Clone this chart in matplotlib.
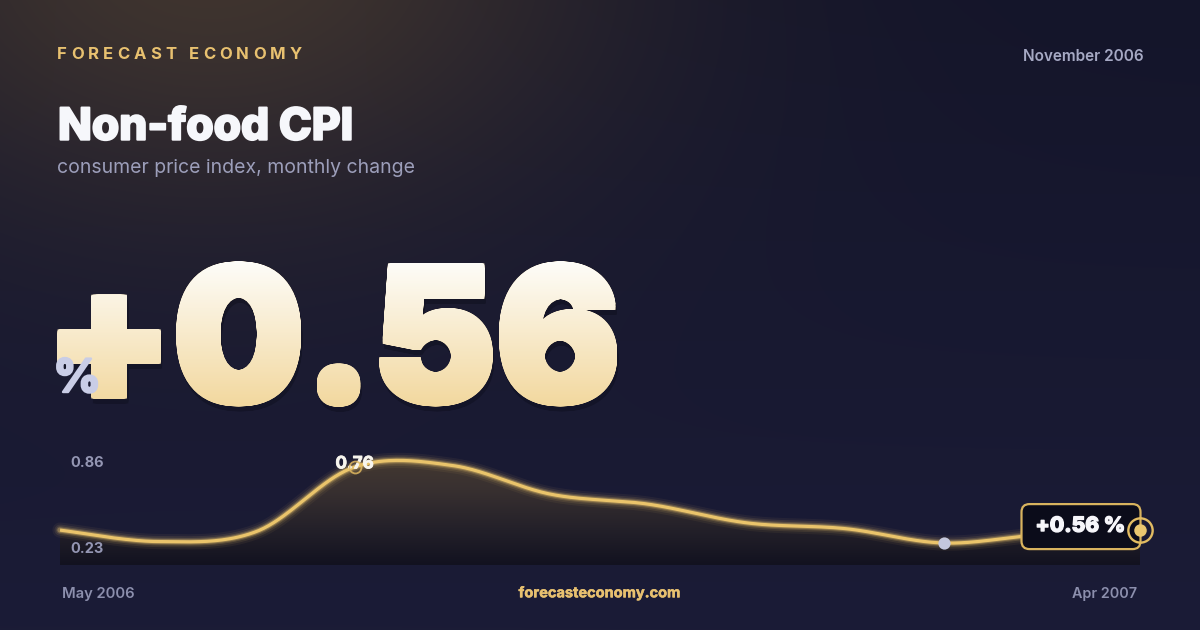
import numpy as np
import matplotlib
matplotlib.use("Agg")
import matplotlib.pyplot as plt
from matplotlib.textpath import TextPath
from matplotlib.font_manager import FontProperties
from matplotlib.patches import PathPatch, FancyBboxPatch, Polygon
from matplotlib.path import Path
from matplotlib.transforms import Affine2D
from matplotlib.colors import to_rgb, LinearSegmentedColormap
import matplotlib.patheffects as pe

# ---------------- data ----------------
months = ["May 2006", "Jun 2006", "Jul 2006", "Aug 2006", "Sep 2006", "Oct 2006",
          "Nov 2006", "Dec 2006", "Jan 2007", "Feb 2007", "Mar 2007", "Apr 2007"]
values = [0.32, 0.24, 0.31, 0.76, 0.77, 0.57, 0.50, 0.37, 0.33, 0.23, 0.29, 0.32]
axis_labels = ["0.86", "0.23"]
highlight_index = 3
headline_value = "+0.56"
callout_label = "+0.56 %"
brand = "FORECAST ECONOMY"
title = "Non-food CPI"
subtitle = "consumer price index, monthly change"
date_label = "November 2006"
site = "forecasteconomy.com"

FONT = "Inter"
GOLD = "#E8C170"
LINE = "#EAC46B"

W, H = 1200, 630
fig = plt.figure(figsize=(W / 100, H / 100), dpi=100)
R = fig.canvas.get_renderer()

# background axes in pixel coordinates
bg = fig.add_axes([0, 0, 1, 1])
bg.set_xlim(0, W)
bg.set_ylim(H, 0)
bg.axis("off")

yy, xx = np.mgrid[0:H, 0:W]
top = np.array(to_rgb("#14152a"))
bot = np.array(to_rgb("#1b1c37"))
t = (yy / H)[..., None]
base = top * (1 - t) + bot * t
warm = np.array(to_rgb("#4b3d30"))
d = np.sqrt((xx - 210.0) ** 2 + ((yy + 50.0) * 1.5) ** 2)
wgt = (np.exp(-(d / 400.0) ** 2) * 0.8)[..., None]
img = base * (1 - wgt) + warm * wgt
bg.imshow(img, extent=(0, W, H, 0), aspect="auto", zorder=0, interpolation="bilinear")
bg.set_xlim(0, W)
bg.set_ylim(H, 0)


def fit(ax_, x, y, s, target_w, size0, bold_px=0.0, **kw):
    tt = ax_.text(x, y, s, fontsize=size0, **kw)
    w = tt.get_window_extent(renderer=R).width
    if w > 0:
        tt.set_fontsize(size0 * (target_w - bold_px) / w)
    if bold_px > 0:
        tt.set_path_effects([pe.withStroke(linewidth=bold_px * 0.72,
                                           foreground=kw.get("color", "w"))])
    return tt


def spaced(ax_, x0, y, s, target_w, size, **kw):
    adv = []
    for c in s:
        if c == " ":
            a = ax_.text(0, 0, "H H", fontsize=size, **kw)
            b = ax_.text(0, 0, "HH", fontsize=size, **kw)
            adv.append(a.get_window_extent(renderer=R).width - b.get_window_extent(renderer=R).width)
            a.remove(); b.remove()
        else:
            a = ax_.text(0, 0, c, fontsize=size, **kw)
            adv.append(a.get_window_extent(renderer=R).width)
            a.remove()
    gap = (target_w - sum(adv)) / (len(s) - 1)
    x = x0
    for c, w in zip(s, adv):
        if c != " ":
            ax_.text(x, y, c, fontsize=size, ha="left", va="baseline", **kw)
        x += w + gap


# ---------------- header ----------------
spaced(bg, 57, 59, brand, 245, 12.0, family=FONT, weight="bold", color=GOLD)
fit(bg, 1143.3, 60.7, date_label, 121.6, 12.0, family=FONT, weight="semibold",
    color="#A6A9C4", ha="right", va="baseline")
fit(bg, 58.0, 139.7, title, 297, 32, bold_px=2.0, family=FONT, weight="heavy", color="#F6F7FB",
    ha="left", va="baseline")
fit(bg, 57.3, 173.3, subtitle, 358, 14, family=FONT, weight="normal", color="#9C9EBA",
    ha="left", va="baseline")

# ---------------- big headline number (gradient text, slightly emboldened) ----------------
fp_big = FontProperties(family=FONT, weight="black")
tp = TextPath((0, 0), headline_value, size=100, prop=fp_big)
ext = tp.get_extents()
x0, x1, y_top, y_bot = 57.7, 617.0, 261.7, 406.5
rb = 3.0  # emboldening half-width in px (square pen keeps corners sharp)
sx = (x1 - x0 - 2 * rb) / ext.width
sy = (y_bot - y_top - 2 * rb) / ext.height
place = Affine2D().translate(-ext.x0, -ext.y0).scale(sx, -sy).translate(x0 + rb, y_bot - rb)
core = place.transform_path(tp)
grid = np.linspace(-rb, rb, 5)
offs = [(dx, dy) for dx in grid for dy in grid]
bold_path = Path.make_compound_path(*[Affine2D().translate(dx, dy).transform_path(core)
                                      for dx, dy in offs])
shadow = PathPatch(Affine2D().translate(1.5, 5).transform_path(bold_path), facecolor="#05060f",
                   edgecolor="none", alpha=0.28, zorder=4, transform=bg.transData)
bg.add_patch(shadow)
big = PathPatch(bold_path, facecolor="#F4DDA6", edgecolor="none", zorder=5,
                transform=bg.transData)
bg.add_patch(big)
gtop = np.array(to_rgb("#FEFEFC"))
gbot = np.array(to_rgb("#F2D79C"))
gt = np.linspace(0, 1, 200)[:, None, None]
grad = np.repeat(gtop * (1 - gt) + gbot * gt, 4, axis=1)
gim = bg.imshow(grad, extent=(x0 - 5, x1 + 5, y_bot + 4, y_top - 4), aspect="auto",
                zorder=6, interpolation="bilinear")
gim.set_clip_path(big)
bg.set_xlim(0, W)
bg.set_ylim(H, 0)

fit(bg, 53.5, 392, "%", 49.5, 40, bold_px=2.4, family=FONT, weight="heavy", color="#C9CDE6",
    ha="left", va="baseline", zorder=7)

# ---------------- sparkline chart ----------------
ylo, yhi = 0.0766, 0.8785
ax = fig.add_axes([60 / W, (H - 565) / H, 1080 / W, 115 / H])
ax.set_xlim(0, len(values) - 1)
ax.set_ylim(ylo, yhi)
ax.axis("off")
ax.patch.set_alpha(0)

xs = np.arange(len(values), dtype=float)
vs = np.array(values, dtype=float)


def catmull_rom(x, y, n=40):
    P = np.column_stack([x, y])
    P = np.vstack([P[0], P, P[-1]])
    out = []
    for i in range(1, len(P) - 2):
        p0, p1, p2, p3 = P[i - 1], P[i], P[i + 1], P[i + 2]
        tt = np.linspace(0, 1, n, endpoint=(i == len(P) - 3))[:, None]
        c = 0.5 * (2 * p1 + (-p0 + p2) * tt + (2 * p0 - 5 * p1 + 4 * p2 - p3) * tt ** 2
                   + (-p0 + 3 * p1 - 3 * p2 + p3) * tt ** 3)
        out.append(c)
    c = np.vstack(out)
    return c[:, 0], c[:, 1]


cx, cy = catmull_rom(xs, vs)

# gradient fill under the curve
stops = [(0.0, "#473b31"), (0.35, "#383030"), (0.7, "#232029"), (1.0, "#121220")]
cmap = LinearSegmentedColormap.from_list("fillg", stops)
fg = np.linspace(0, 1, 256)[:, None]
fim = ax.imshow(np.repeat(fg, 2, axis=1), cmap=cmap, extent=(0, len(values) - 1, ylo, yhi),
                aspect="auto", origin="upper", zorder=1, interpolation="bilinear")
poly = Polygon(np.column_stack([np.r_[cx, cx[-1], cx[0]], np.r_[cy, ylo, ylo]]),
               closed=True, facecolor="none", edgecolor="none", transform=ax.transData)
ax.add_patch(poly)
fim.set_clip_path(poly)
ax.set_xlim(0, len(values) - 1)
ax.set_ylim(ylo, yhi)

# glowing line
for lw, a in [(11, 0.06), (8, 0.10), (5.5, 0.18), (3.8, 0.35)]:
    ax.plot(cx, cy, color=LINE, lw=lw, alpha=a, solid_capstyle="round", clip_on=False, zorder=3)
ax.plot(cx, cy, color=LINE, lw=2.3, solid_capstyle="butt", clip_on=False, zorder=4)

# y labels
ax.text(70.7, 466.7, axis_labels[0], transform=bg.transData, family=FONT, weight="bold",
        fontsize=10.5, color="#9496B3", ha="left", va="baseline", zorder=5)
ax.text(70.7, 552.7, axis_labels[1], transform=bg.transData, family=FONT, weight="bold",
        fontsize=10.5, color="#9496B3", ha="left", va="baseline", zorder=5)

# highlighted point
hi = highlight_index
ann = ax.annotate(f"{values[hi]:.2f}", (xs[hi], vs[hi]), xytext=(0, -1.0), textcoords="offset points",
                  ha="center", va="baseline", family=FONT, weight="bold", fontsize=12.3,
                  color="#F7F5EE", zorder=6, annotation_clip=False)
ann.set_path_effects([pe.withStroke(linewidth=0.6, foreground="#F7F5EE")])
ax.plot(xs[hi], vs[hi], "o", ms=8.6, mfc="none", mec="#E0B860", mew=1.3, alpha=0.85,
        zorder=7, clip_on=False)

# minimum point
mi = int(np.argmin(vs))
ax.plot(xs[mi], vs[mi], "o", ms=8.8, color="#C4C7DD", mec="none", zorder=6, clip_on=False)

# last point callout
li = len(values) - 1
disp = ax.transData.transform((xs[li], vs[li]))
px, py = bg.transData.inverted().transform(disp)
box = FancyBboxPatch((px - 118.5, py - 26), 119, 45,
                     boxstyle="round,pad=0,rounding_size=8", facecolor="#0B0C1A",
                     edgecolor="#D8B35E", lw=1.6, transform=bg.transData, zorder=8, clip_on=False)
ax.add_patch(box)
fit(ax, px - 59.5, py + 1.7, callout_label, 91, 14, bold_px=1.3, family=FONT, weight="heavy",
    color="#F6F6FA", ha="center", va="baseline", transform=bg.transData, zorder=9, clip_on=False)
ax.plot(xs[li], vs[li], "o", ms=17.5, mfc="none", mec="#E2BC62", mew=1.7, zorder=10, clip_on=False)
ax.plot(xs[li], vs[li], "o", ms=9.0, color="#EAC76F", mec="none", zorder=11, clip_on=False)

# ---------------- footer ----------------
fit(bg, 62, 597.7, months[0], 72.6, 11, family=FONT, weight="semibold", color="#8C8FAD",
    ha="left", va="baseline")
fit(bg, 1137.5, 597.7, months[-1], 64.7, 11, family=FONT, weight="semibold", color="#8C8FAD",
    ha="right", va="baseline")
fit(bg, 599.7, 597.3, site, 162.7, 11, bold_px=0.5, family=FONT, weight="bold", color=GOLD,
    ha="center", va="baseline")

fig.savefig("out.png", dpi=100)
